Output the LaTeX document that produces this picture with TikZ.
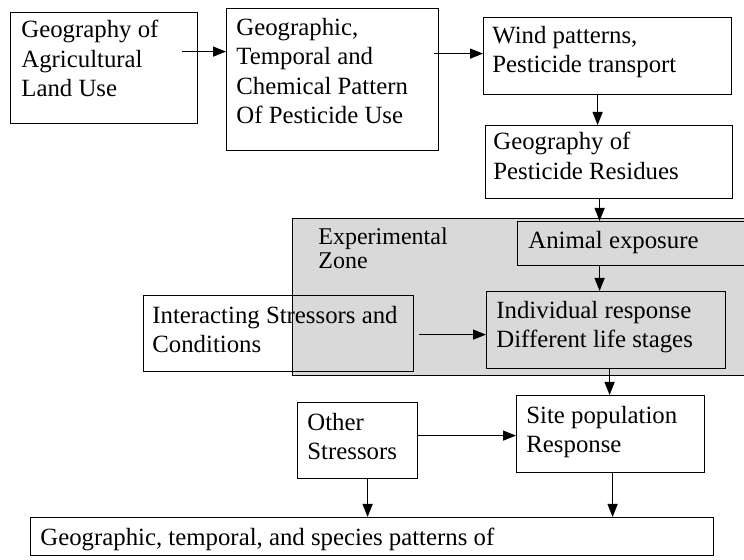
\documentclass[tikz,border=0pt]{standalone}
\usepackage{fontspec}
\setmainfont{Liberation Serif}
\usetikzlibrary{arrows.meta}
\begin{document}
\begin{tikzpicture}[x=0.5pt,y=-0.5pt,
  box/.style={draw, line width=0.6pt, inner sep=0pt, anchor=north west},
  txt/.style={anchor=north west, align=left, inner sep=0pt, font=\fontsize{12.4pt}{14.6pt}\selectfont},
  ztxt/.style={anchor=north west, align=left, inner sep=0pt, font=\fontsize{12pt}{12pt}\selectfont},
  arr/.style={line width=0.6pt, -{Triangle[length=6.5pt,width=5pt]}}]
\useasboundingbox (0,0) rectangle (744,560);
% experimental zone
\node[box, fill=black!15, minimum width=229pt, minimum height=78.5pt] (zone) at (292,218) {};
\node[ztxt] (zonet) at (318,227) {Experimental\\Zone};
% boxes
\node[box, minimum width=93.5pt, minimum height=55.5pt] (box1) at (10,12) {};
\node[txt] (box1t) at (21,20) {Geography of\\Agricultural\\Land Use};
\node[box, minimum width=106pt, minimum height=71pt] (box2) at (226,8) {};
\node[txt] (box2t) at (236,18) {Geographic,\\Temporal and\\Chemical Pattern\\Of Pesticide Use};
\node[box, minimum width=124pt, minimum height=38.5pt] (box3) at (483,17) {};
\node[txt] (box3t) at (492,26) {Wind patterns,\\Pesticide transport};
\node[box, minimum width=123.5pt, minimum height=36.5pt] (box4) at (485,125) {};
\node[txt] (box4t) at (493,132) {Geography of\\Pesticide Residues};
\node[box, minimum width=116.5pt, minimum height=22pt] (animal) at (517,221) {};
\node[txt] (animalt) at (528,231) {Animal exposure};
\node[box, minimum width=119.5pt, minimum height=38.5pt] (indiv) at (486,291) {};
\node[txt] (indivt) at (496,301) {Individual response\\Different life stages};
\node[box, minimum width=135pt, minimum height=38pt] (inter) at (143,295) {};
\node[txt] (intert) at (152,306) {Interacting Stressors and\\Conditions};
\node[box, minimum width=94pt, minimum height=38.5pt] (site) at (516,395) {};
\node[txt] (sitet) at (526,406) {Site population\\Response};
\node[box, minimum width=60pt, minimum height=38pt] (other) at (297,402) {};
\node[txt] (othert) at (307,413) {Other\\Stressors};
\node[box, minimum width=341.5pt, minimum height=19pt] (bottom) at (30,517) {};
\node[txt] (bottomt) at (40,528) {Geographic, temporal, and species patterns of};
% connectors
\draw[arr] ([xshift=-8pt,yshift=8.25pt]box1.east) -- ([yshift=14pt]box2.west);
\draw[arr] ([xshift=-2.5pt,yshift=13pt]box2.east) -- ([yshift=1.25pt]box3.west);
\draw[arr] ([xshift=-5pt]box3.south) -- ([xshift=-5.75pt]box4.north);
\draw[arr] ([xshift=-4.75pt]box4.south) -- ([xshift=-17.25pt]animal.north);
\draw[arr] ([xshift=-17.25pt]animal.south) -- ([xshift=-3.25pt]indiv.north);
\draw[arr] ([xshift=2.5pt,yshift=-0.5pt]inter.east) -- ([yshift=-2.25pt]indiv.west);
\draw[arr] ([xshift=1.75pt]indiv.south) -- ([xshift=-0.5pt]site.north);
\draw[arr] ([yshift=2.5pt]other.east) -- ([yshift=-0.75pt]site.west);
\coordinate (o1) at ([xshift=5pt]other.south);
\coordinate (s1) at ([xshift=1pt]site.south);
\draw[arr] (o1) -- (o1 |- bottom.north);
\draw[arr] (s1) -- (s1 |- bottom.north);
\end{tikzpicture}
\end{document}
